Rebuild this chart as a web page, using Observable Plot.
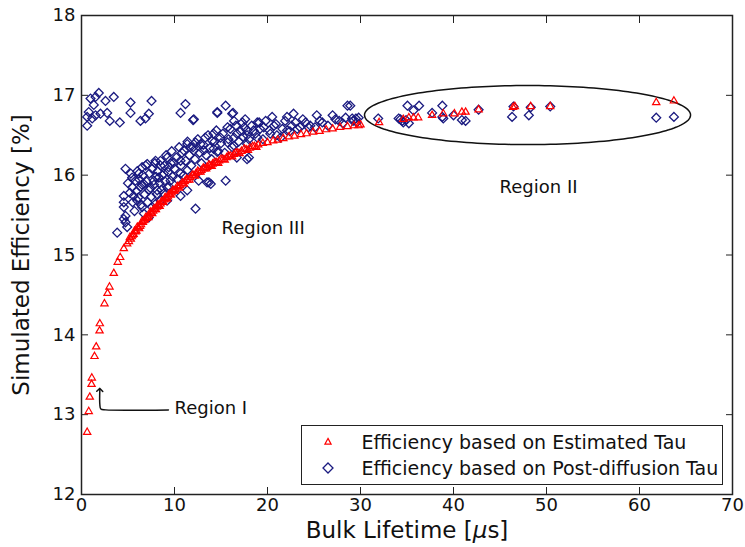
<!DOCTYPE html>
<html><head><meta charset="utf-8">
<script src="https://cdn.jsdelivr.net/npm/d3@7"></script>
<script src="https://cdn.jsdelivr.net/npm/@observablehq/plot@0.6"></script>
<style>
body{margin:0;background:#fff;font-family:"DejaVu Sans",sans-serif;}
#wrap{position:relative;width:745px;height:547px;}
#legend{position:absolute;left:301px;top:425px;width:420px;height:58px;border:1.5px solid #222;background:#fff;font-size:19px;color:#111;}
.row{position:absolute;left:0;height:26px;display:flex;align-items:center;white-space:nowrap;}
.row svg{margin-left:19.5px;margin-right:28px;}
</style></head><body><div id="wrap"></div>
<script>
// Bulk lifetime [µs] vs simulated efficiency [%]
const estimatedTau = [
 [0.61,12.78],[0.78,13.04],[0.89,13.22],[1.08,13.38],[1.11,13.46],[1.40,13.73],[1.58,13.85],[1.94,14.05],[1.97,14.14],
 [2.47,14.39],[2.80,14.52],[3.01,14.60],[3.47,14.77],[3.90,14.91],[4.16,14.97],[4.55,15.08],[4.91,15.14],
 [5.1,15.17],[5.3,15.2],[5.4,15.23],[5.6,15.26],[5.8,15.29],[5.9,15.3],[6.1,15.34],[6.3,15.36],[6.4,15.38],[6.6,15.41],
 [6.8,15.44],[7.0,15.46],[7.1,15.48],[7.3,15.5],[7.5,15.53],[7.7,15.55],[7.9,15.57],[8.1,15.6],[8.3,15.62],[8.5,15.64],
 [8.7,15.66],[8.9,15.69],[9.1,15.71],[9.3,15.73],[9.5,15.76],[9.7,15.78],[9.9,15.8],[10.1,15.82],[10.4,15.85],[10.6,15.87],
 [10.9,15.9],[11.1,15.92],[11.4,15.94],[11.7,15.97],[12.0,16.0],[12.3,16.02],[12.6,16.04],[12.9,16.06],[13.2,16.08],
 [13.5,16.1],[13.8,16.12],[14.1,16.14],[14.5,16.16],[14.8,16.18],[15.2,16.2],[15.6,16.22],[16.0,16.24],[16.4,16.26],
 [16.8,16.28],[17.2,16.3],[17.7,16.32],[18.1,16.34],[18.6,16.36],[19.0,16.38],[19.5,16.4],[20.0,16.41],[20.6,16.43],
 [21.1,16.44],[21.7,16.46],[22.3,16.48],[22.9,16.49],[23.6,16.51],[24.2,16.52],[24.9,16.54],[25.6,16.55],[26.3,16.57],
 [27.0,16.58],[27.8,16.6],[28.6,16.61],[29.3,16.62],[30.0,16.63],
 [5.2,15.22],[5.5,15.25],[5.7,15.3],[6.0,15.35],[6.2,15.33],[6.5,15.42],[6.7,15.43],[6.9,15.47],[7.2,15.47],[7.4,15.54],
 [7.6,15.52],[7.8,15.58],[8.0,15.57],[8.2,15.63],[8.4,15.61],[8.6,15.67],[8.8,15.66],[9.0,15.72],[9.2,15.7],[9.4,15.76],
 [9.6,15.75],[9.8,15.81],[10.0,15.8],[10.3,15.86],[10.5,15.84],[10.8,15.9],[11.0,15.89],[11.3,15.95],[11.6,15.94],
 [11.9,16.0],[12.2,15.99],[12.5,16.05],[12.8,16.04],[13.1,16.09],[13.4,16.08],[13.7,16.13],[14.0,16.11],[14.3,16.16],
 [14.7,16.15],[15.0,16.2],[15.4,16.19],[15.8,16.24],[16.2,16.23],[16.6,16.28],[17.0,16.27],[17.5,16.33],[17.9,16.31],
 [18.4,16.36],[18.8,16.35],
 [29.8,16.62],[32.0,16.66],[34.6,16.7],[35.2,16.72],[35.7,16.72],[36.2,16.72],[37.7,16.75],[38.9,16.77],[40.1,16.77],
 [40.9,16.79],[41.3,16.79],[42.7,16.82],[46.4,16.85],[46.6,16.86],[48.3,16.86],[50.4,16.86],[61.8,16.91],[63.7,16.93]
];
const postDiffusionTau = [
 [1.86,17.03],[1.51,16.98],[0.97,16.96],[3.47,16.98],[2.58,16.93],[1.32,16.88],[0.78,16.79],[0.61,16.73],[0.61,16.62],
 [1.15,16.71],[1.51,16.75],[2.04,16.77],[2.76,16.78],[3.04,16.68],[4.12,16.66],[5.27,16.91],[5.27,16.78],[6.34,16.68],
 [6.88,16.71],[7.24,16.77],[7.53,16.93],[10.65,16.78],[11.18,16.89],[12.0,16.69],[14.6,16.78],[15.5,16.87],[16.3,16.78],
 [3.84,15.28],[4.73,16.08],[4.55,15.74],[4.55,15.66],[4.73,15.49],[4.55,15.45],[4.73,15.41],[4.91,15.35],[4.55,15.6],
 [5.45,15.97],[5.8,15.93],[6.16,16.02],[6.52,16.1],[6.34,15.85],[6.52,15.6],[6.7,15.52],[7.24,15.47],[7.6,15.6],
 [7.96,15.64],[8.5,15.68],[8.85,15.77],[7.24,15.81],[7.77,15.93],[8.31,15.97],[8.85,16.02],[9.39,16.1],[9.92,16.16],
 [10.65,16.18],[11.0,16.31],[11.37,16.39],[12.26,16.41],[12.08,16.31],[9.21,16.22],[7.96,16.18],[7.06,16.14],[8.5,16.12],
 [9.57,15.93],[10.65,16.02],[11.37,16.06],[12.6,15.93],[12.26,15.58],[13.7,15.91],[15.5,15.93],[13.3,16.47],[14.2,16.52],
 [14.6,16.29],[15.7,16.41],[16.4,16.47],[16.7,16.22],[17.8,16.2],[17.5,16.6],[17.8,16.5],[18.5,16.56],[18.9,16.66],
 [10.65,15.74],[11.37,15.81],[5.6,15.74],[5.45,15.85],[6.0,15.68],[8.14,15.81],[9.21,15.85],[6.7,15.89],[9.2,15.68],
 [12.08,16.7],[14.6,16.79],[16.2,16.77],[16.4,16.68],[17.3,16.66],[19.1,16.66],[20.5,16.73],[20.9,16.64],[22.1,16.73],
 [22.8,16.77],[23.0,16.66],[23.5,16.6],[24.1,16.66],[24.4,16.6],[25.3,16.75],[25.9,16.66],[27.0,16.75],[27.7,16.68],
 [28.6,16.87],[29.1,16.71],[18.9,16.47],[20.3,16.52],[21.4,16.47],[22.1,16.56],[19.6,16.6],[17.8,16.56],[15.7,16.6],
 [16.7,16.52],[14.95,16.47],[14.05,16.43],[12.8,16.39],[11.7,16.35],[13.15,16.31],[14.2,16.33],[16.4,16.37],[17.8,16.39],
 [18.0,16.22],[13.9,15.89],[13.5,15.91],
 [5.0,15.9],[5.2,15.78],[5.3,16.02],[5.5,15.66],[5.7,15.55],[5.9,15.8],[6.0,16.05],[6.1,15.72],[6.2,15.95],[6.4,15.63],
 [6.5,15.88],[6.6,16.0],[6.8,15.76],[6.9,16.12],[7.0,15.92],[7.1,15.66],[7.3,16.02],[7.4,15.84],[7.5,15.73],[7.6,16.08],
 [7.8,15.88],[7.9,16.15],[8.0,15.98],[8.1,15.76],[8.2,16.05],[8.4,15.9],[8.5,16.18],[8.6,15.82],[8.7,16.0],[8.9,16.12],
 [9.0,15.92],[9.1,16.25],[9.3,16.04],[9.4,15.86],[9.6,16.15],[9.7,16.3],[9.8,15.98],[10.0,16.08],[10.2,16.22],[10.3,15.95],
 [10.5,16.35],[10.7,16.12],[10.8,16.28],[11.0,16.0],[11.2,16.18],[11.4,16.42],[11.6,16.25],[11.8,16.12],[12.0,16.35],
 [12.2,16.2],[12.5,16.45],[12.7,16.28],[12.9,16.15],[13.1,16.38],[13.4,16.25],[13.6,16.5],[13.8,16.34],[14.0,16.2],
 [14.3,16.42],[14.5,16.56],[14.7,16.3],[15.0,16.4],[15.2,16.52],[15.4,16.28],[15.8,16.45],[16.0,16.58],[16.2,16.35],
 [16.6,16.62],[16.9,16.42],[17.1,16.55],[17.4,16.48],[17.6,16.7],[18.0,16.45],[18.3,16.62],[18.7,16.52],[19.2,16.58],
 [19.5,16.45],[19.8,16.68],[20.2,16.56],[20.7,16.62],[21.0,16.5],[21.6,16.58],[21.9,16.68],[22.4,16.55],[22.6,16.62],
 [23.2,16.58],[23.8,16.7],[24.6,16.62],[25.1,16.6],[25.6,16.68],[26.5,16.62],[27.3,16.7],[28.1,16.65],[28.4,16.72],[29.6,16.66],
 [28.9,16.87],[29.5,16.71],[29.8,16.72],[29.2,16.68],[31.9,16.71],[34.1,16.71],[34.3,16.7],[34.5,16.68],[34.6,16.66],
 [34.9,16.69],[35.05,16.87],[35.2,16.65],[35.7,16.81],[36.3,16.87],[37.7,16.78],[38.8,16.87],[38.8,16.73],[38.9,16.71],
 [40.0,16.75],[40.9,16.69],[41.3,16.68],[42.7,16.82],[46.3,16.73],[46.45,16.86],[48.1,16.75],[48.3,16.85],[50.4,16.86],
 [61.8,16.72],[63.7,16.73]
];
const xTicks = [0,10,20,30,40,50,60,70];
const yTicks = [12,13,14,15,16,17,18];
const regionLabels = [
 {x:15.05, y:15.33, label:"Region III"},
 {x:44.95, y:15.845, label:"Region II"},
 {x:10.0, y:13.075, label:"Region I"}
];
const arrowPath = [[9.35,13.06],[2.6,13.06],[2.08,13.07],[1.97,13.13],[1.97,13.31]];
const ellipseCenter = [47.96, 16.753];
const ellipseRadii = [17.53, 0.37];
const seriesNames = ["Efficiency based on Estimated Tau","Efficiency based on Post-diffusion Tau"];
const seriesColors = ["#ff0000","#1a1a80"];

const ellipsePts = d3.range(0, 361, 2).map(a => [
  ellipseCenter[0] + ellipseRadii[0]*Math.cos(a*Math.PI/180),
  ellipseCenter[1] + ellipseRadii[1]*Math.sin(a*Math.PI/180)
]);
const fmt = d => String(d);

const chart = Plot.plot({
  width: 745, height: 547,
  marginLeft: 81, marginRight: 13, marginTop: 15, marginBottom: 53,
  style: {fontFamily: "DejaVu Sans, sans-serif", fontSize: "18px", color: "#111", background: "white", overflow: "visible"},
  x: {domain: [0,70]},
  y: {domain: [12,18]},
  marks: [
    Plot.axisX(xTicks, {anchor:"bottom", tickSize:0, tickPadding:4, tickFormat:fmt, label:null, fontSize:18}),
    Plot.axisX(xTicks, {anchor:"bottom", tickSize:-7, tickFormat:()=>"", label:null, stroke:"#222"}),
    Plot.axisX(xTicks, {anchor:"top", tickSize:-7, tickFormat:()=>"", label:null, stroke:"#222"}),
    Plot.axisY(yTicks, {anchor:"left", tickSize:0, tickPadding:6, tickFormat:fmt, label:null, fontSize:18}),
    Plot.axisY(yTicks, {anchor:"left", tickSize:-7, tickFormat:()=>"", label:null, stroke:"#222"}),
    Plot.axisY(yTicks, {anchor:"right", tickSize:-7, tickFormat:()=>"", label:null, stroke:"#222"}),
    Plot.line(ellipsePts, {x: d=>d[0], y: d=>d[1], stroke:"#111", strokeWidth:1.5}),
    Plot.dot(postDiffusionTau, {x: d=>d[0], y: d=>d[1], symbol:"diamond2", r:4, stroke:seriesColors[1], strokeWidth:1.3, fill:"none"}),
    Plot.dot(estimatedTau, {x: d=>d[0], y: d=>d[1], symbol:"triangle", r:2.7, stroke:seriesColors[0], strokeWidth:1.2, fill:"none"}),
    Plot.text(regionLabels, {x:"x", y:"y", text:"label", textAnchor:"start", fontSize:18, fill:"#111"}),
    Plot.line(arrowPath, {x: d=>d[0], y: d=>d[1], curve:"catmull-rom", stroke:"#111", strokeWidth:1.5, markerEnd:"arrow"}),
    Plot.text(["Bulk Lifetime [μs]"], {frameAnchor:"bottom", dy:36, fontSize:23, textAnchor:"middle", lineAnchor:"middle", text:d=>d, fill:"#111"}),
    Plot.text(["Simulated Efficiency [%]"], {frameAnchor:"left", dx:-60, rotate:-90, fontSize:23, textAnchor:"middle", lineAnchor:"middle", text:d=>d, fill:"#111"}),
    Plot.frame({stroke:"#222", strokeWidth:1.5})
  ]
});
d3.select(chart).selectAll("text").each(function(){
  if (this.textContent === "Bulk Lifetime [μs]") {
    this.innerHTML = 'Bulk Lifetime [<tspan font-style="italic">μ</tspan>s]';
  }
});
const wrap = document.getElementById("wrap");
wrap.appendChild(chart);

const legend = document.createElement("div");
legend.id = "legend";
const sym = [
  '<svg width="12" height="12" viewBox="-6 -6 12 12"><path d="M0,-3.6L3.1,2.2L-3.1,2.2Z" fill="none" stroke="'+seriesColors[0]+'" stroke-width="1.2"/></svg>',
  '<svg width="12" height="12" viewBox="-6 -6 12 12"><path d="M0,-5L5,0L0,5L-5,0Z" fill="none" stroke="'+seriesColors[1]+'" stroke-width="1.3"/></svg>'
];
seriesNames.forEach((n,i) => {
  const r = document.createElement("div");
  r.className = "row";
  r.style.top = (3 + i*26) + "px";
  r.innerHTML = sym[i] + '<span>' + n + '</span>';
  legend.appendChild(r);
});
wrap.appendChild(legend);
</script></body></html>
